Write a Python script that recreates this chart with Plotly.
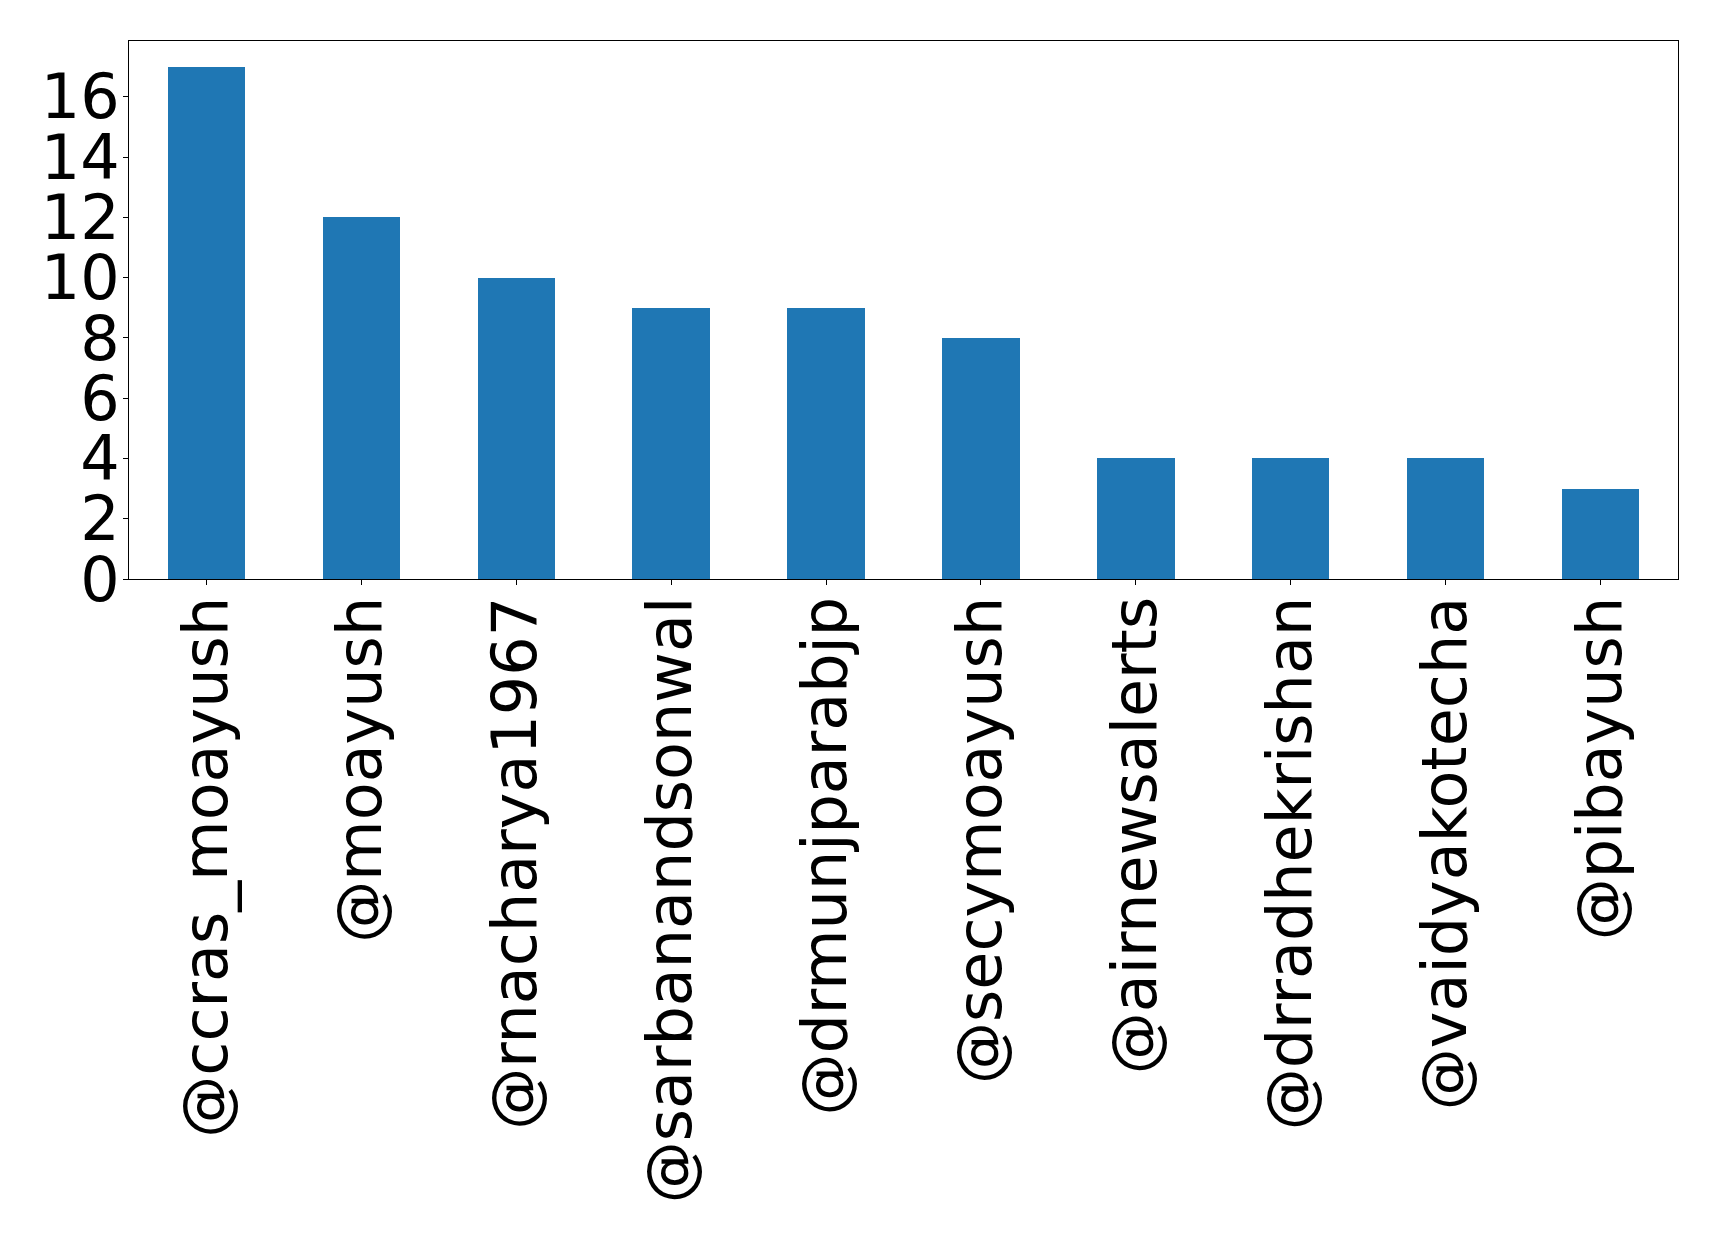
import plotly.graph_objects as go

handles = ["@ccras_moayush", "@moayush", "@rnacharya1967", "@sarbanandsonwal",
           "@drmunjparabjp", "@secymoayush", "@airnewsalerts", "@drradhekrishan",
           "@vaidyakotecha", "@pibayush"]
counts = [17, 12, 10, 9, 9, 8, 4, 4, 4, 3]

fig = go.Figure()

fig.add_trace(go.Bar(
    x=list(range(len(handles))),
    y=counts,
    width=0.5,
    marker=dict(color="#1f77b4", line=dict(width=0)),
))

axis_style = dict(
    showline=True,
    linecolor="black",
    linewidth=1,
    mirror=True,
    ticks="outside",
    ticklen=5,
    tickcolor="black",
    showgrid=False,
    zeroline=False,
    tickfont=dict(family="DejaVu Sans", size=62, color="black"),
)

fig.update_xaxes(
    range=[-0.5, 9.5],
    tickmode="array",
    tickvals=list(range(len(handles))),
    ticktext=handles,
    tickangle=-90,
    ticklabelstandoff=-13,
    **axis_style,
)
fig.update_yaxes(
    range=[0, 17.85],
    tickmode="array",
    tickvals=[0, 2, 4, 6, 8, 10, 12, 14, 16],
    ticklabelstandoff=-9,
    **axis_style,
)

fig.update_layout(
    width=1719,
    height=1239,
    margin=dict(l=121, r=49, t=33, b=668),
    plot_bgcolor="white",
    paper_bgcolor="white",
    showlegend=False,
    bargap=0,
)

fig.write_html("out.html")
